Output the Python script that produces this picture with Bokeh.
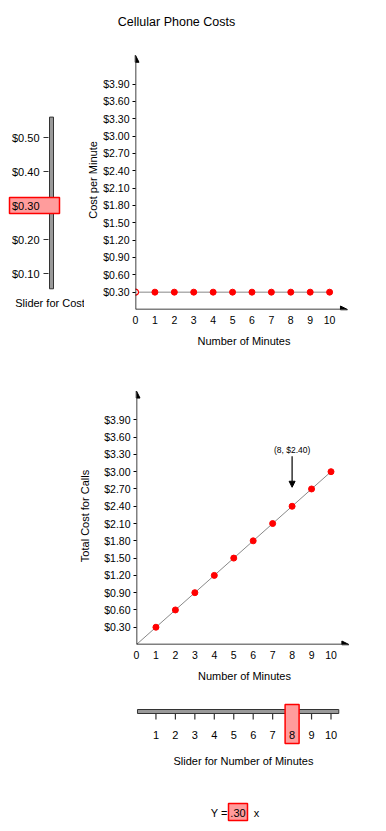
from bokeh.plotting import figure
from bokeh.models import Range1d, LinearAxis, FixedTicker, NumeralTickFormatter, Arrow, NormalHead
from bokeh.layouts import column, row
from bokeh.core.properties import value
from bokeh.embed import file_html
from bokeh.resources import INLINE

FONT = "Liberation Sans"

# ---------------- data ----------------
title_text = "Cellular Phone Costs"
minutes = [0, 1, 2, 3, 4, 5, 6, 7, 8, 9, 10]
cost_per_minute = [0.30, 0.30, 0.30, 0.30, 0.30, 0.30, 0.30, 0.30, 0.30, 0.30, 0.30]
total_cost = [0.00, 0.30, 0.60, 0.90, 1.20, 1.50, 1.80, 2.10, 2.40, 2.70, 3.00]
y_ticks = [0.30, 0.60, 0.90, 1.20, 1.50, 1.80, 2.10, 2.40, 2.70, 3.00, 3.30, 3.60, 3.90]
x_ticks = [0, 1, 2, 3, 4, 5, 6, 7, 8, 9, 10]
cost_slider_ticks = [0.10, 0.20, 0.30, 0.40, 0.50]
cost_slider_labels = ["$0.10", "$0.20", "$0.30", "$0.40", "$0.50"]
cost_slider_span = [0.055, 0.56]
minute_slider_ticks = [1, 2, 3, 4, 5, 6, 7, 8, 9, 10]
minute_slider_labels = ["1", "2", "3", "4", "5", "6", "7", "8", "9", "10"]
minute_slider_span = [0.05, 10.4]
selected_cost = 0.30
selected_minutes = 8
selected_total = 2.40
axis_arrow_x = 10.92
axis_arrow_y = 4.40

RED = "#ff0000"
BOX_FILL = "#ff9c9c"


def blank(width, height, xr, yr, **kw):
    p = figure(width=width, height=height, x_range=xr, y_range=yr,
               toolbar_location=None, output_backend="svg",
               x_axis_location=None, y_axis_location=None,
               outline_line_color=None, background_fill_color="white",
               border_fill_color="white", **kw)
    p.grid.visible = False
    return p


def txt(p, x, y, t, size="11px", align="center", baseline="middle", **kw):
    p.text(x=x, y=y, text=t, text_font=value(FONT), text_font_size=size,
           text_align=align, text_baseline=baseline, text_color="black", **kw)


def chart(width, height, mbl, mbr, mbt, mbb, x_end, y_end, ylabel, ylabel_standoff):
    p = blank(width, height, Range1d(0, x_end), Range1d(0, y_end),
              min_border_left=mbl, min_border_right=mbr,
              min_border_top=mbt, min_border_bottom=mbb)
    ya = LinearAxis(ticker=FixedTicker(ticks=y_ticks),
                    formatter=NumeralTickFormatter(format="$0.00"),
                    axis_label=ylabel)
    ya.axis_line_color = None
    ya.major_tick_out = 3
    ya.major_tick_in = 0
    ya.minor_tick_out = 0
    ya.major_tick_line_color = "black"
    ya.major_label_standoff = 3
    ya.major_label_text_font = FONT
    ya.major_label_text_font_size = "10.5px"
    ya.major_label_text_color = "black"
    ya.axis_label_text_font = FONT
    ya.axis_label_text_font_size = "11px"
    ya.axis_label_text_font_style = "normal"
    ya.axis_label_text_color = "black"
    ya.axis_label_standoff = ylabel_standoff
    p.add_layout(ya, "left")

    xa = LinearAxis(ticker=FixedTicker(ticks=x_ticks), axis_label="Number of Minutes")
    xa.axis_line_color = None
    xa.major_tick_out = 0
    xa.major_tick_in = 0
    xa.minor_tick_out = 0
    xa.major_label_standoff = 6
    xa.major_label_text_font = FONT
    xa.major_label_text_font_size = "10.5px"
    xa.major_label_text_color = "black"
    xa.axis_label_text_font = FONT
    xa.axis_label_text_font_size = "11px"
    xa.axis_label_text_font_style = "normal"
    xa.axis_label_text_color = "black"
    xa.axis_label_standoff = 8
    p.add_layout(xa, "below")

    p.add_layout(Arrow(end=NormalHead(size=7, fill_color="black", line_color="black"),
                       x_start=0, y_start=0, x_end=0, y_end=axis_arrow_y,
                       line_color="black", line_width=1.5))
    p.add_layout(Arrow(end=NormalHead(size=7, fill_color="black", line_color="black"),
                       x_start=0, y_start=0, x_end=axis_arrow_x, y_end=0,
                       line_color="black", line_width=1.5))
    return p


# ---------------- title ----------------
title_fig = blank(378, 45, Range1d(0, 378), Range1d(45, 0), min_border=0)
txt(title_fig, [176], [21], [title_text], size="12.5px")

# ---------------- cost slider ----------------
cs = blank(84, 310, Range1d(0, 84), Range1d(-0.00588, 0.7559),
           min_border_left=0, min_border_right=0, min_border_top=5, min_border_bottom=46)
cs.quad(left=[49], right=[53], bottom=[cost_slider_span[0]], top=[cost_slider_span[1]],
        fill_color="#999999", line_color="#333333", line_width=1)
cs.segment(x0=[43] * len(cost_slider_ticks), x1=[48] * len(cost_slider_ticks),
           y0=cost_slider_ticks, y1=cost_slider_ticks, line_color="#333333", line_width=1.2)
cs.rect(x=[34], y=[selected_cost], width=[50], height=[16], height_units="screen",
        fill_color=BOX_FILL, line_color=RED, line_width=1.5)
txt(cs, [11.5] * len(cost_slider_ticks), cost_slider_ticks, cost_slider_labels, align="left")
txt(cs, [49.5], [0.0118], ["Slider for Cost"])

# ---------------- chart 1: cost per minute ----------------
c1 = chart(294, 310, 50, 26, 5, 46, 218 / 19.5, 259 / 57.78, "Cost per Minute", 1)
c1.line(minutes, cost_per_minute, line_color="#888888", line_width=1)
c1.scatter(minutes[1:], cost_per_minute[1:], size=6, fill_color=RED, line_color=RED)
c1.scatter(minutes[:1], cost_per_minute[:1], size=6, fill_color="white", line_color=RED,
           line_width=1.2)

# ---------------- chart 2: total cost ----------------
c2 = chart(378, 335, 136, 26, 32, 46, 216 / 19.45, 257 / 57.6, "Total Cost for Calls", 10)
c2.line(minutes, total_cost, line_color="#888888", line_width=1)
c2.scatter(minutes[1:], total_cost[1:], size=6, fill_color=RED, line_color=RED)
c2.add_layout(Arrow(end=NormalHead(size=6, fill_color="black", line_color="black"),
                    x_start=selected_minutes, y_start=selected_total + 0.87,
                    x_end=selected_minutes, y_end=selected_total + 0.33,
                    line_color="black", line_width=1.2))
txt(c2, [selected_minutes], [selected_total + 0.985],
    ["(%d, $%.2f)" % (selected_minutes, selected_total)], size="8.5px")

# ---------------- minutes slider ----------------
ms = blank(378, 80, Range1d(0, 216 / 19.45), Range1d(80, 0),
           min_border_left=136, min_border_right=26, min_border_top=0, min_border_bottom=0)
ms.quad(left=[minute_slider_span[0]], right=[minute_slider_span[1]], top=[19], bottom=[23],
        fill_color="#999999", line_color="#333333", line_width=1)
ms.segment(x0=minute_slider_ticks, x1=minute_slider_ticks,
           y0=[23] * len(minute_slider_ticks), y1=[29] * len(minute_slider_ticks),
           line_color="#333333", line_width=1.2)
ms.rect(x=[selected_minutes], y=[33.5], width=[14], height=[39], width_units="screen",
        fill_color=BOX_FILL, line_color=RED, line_width=1.5)
txt(ms, minute_slider_ticks, [44] * len(minute_slider_ticks), minute_slider_labels)
txt(ms, [5.5], [70], ["Slider for Number of Minutes"])

# ---------------- equation ----------------
eq = blank(378, 52, Range1d(0, 378), Range1d(52, 0), min_border=0)
eq.rect(x=[237.5], y=[41.5], width=[19], height=[17],
        fill_color=BOX_FILL, line_color=RED, line_width=1.5)
txt(eq, [227], [42], ["Y ="], align="right")
txt(eq, [237.5], [42], [("%.2f" % selected_cost).lstrip("0")])
txt(eq, [256], [42], ["x"])

layout = column(row(title_fig), row(cs, c1), c2, ms, row(eq))
open("out.html", "w").write(file_html(layout, INLINE))
